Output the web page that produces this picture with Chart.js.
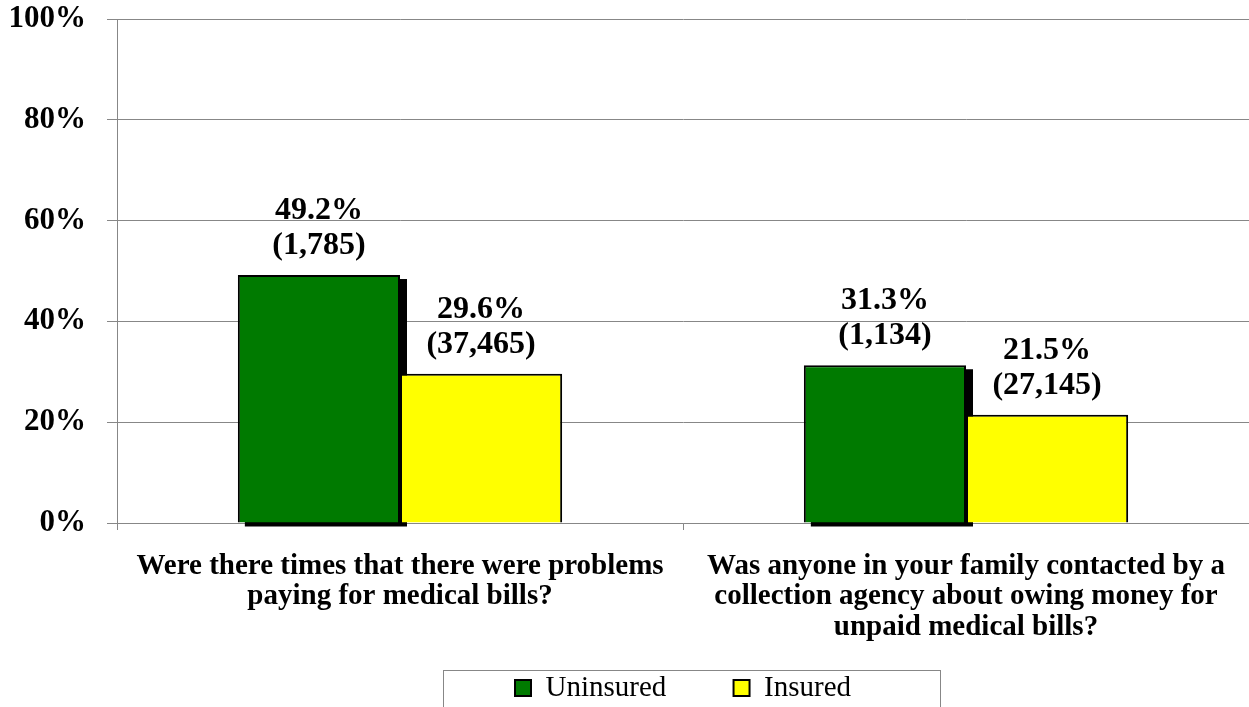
<!DOCTYPE html>
<html>
<head>
<meta charset="utf-8">
<script src="https://cdn.jsdelivr.net/npm/chart.js@4"></script>
<style>
    html, body { margin: 0; padding: 0; background: #ffffff; }
    #wrap { width: 1249px; height: 707px; }
</style>
</head>
<body>
<div id="wrap"><canvas id="chart"></canvas></div>
<script>
// Chart data
const categories = [
    ['Were there times that there were problems', 'paying for medical bills?'],
    ['Was anyone in your family contacted by a', 'collection agency about owing money for', 'unpaid medical bills?']
];
const seriesNames = ['Uninsured', 'Insured'];
const uninsuredPct = [49.2, 31.3];
const insuredPct = [29.6, 21.5];
const uninsuredCount = ['1,785', '1,134'];
const insuredCount = ['37,465', '27,145'];
const yTicks = [0, 20, 40, 60, 80, 100];

const serif = '"Liberation Serif", "Times New Roman", serif';
const gridGray = '#878787';

// Black drop shadow behind the green bars
const shadowPlugin = {
    id: 'barShadow',
    beforeDatasetsDraw(chart) {
        const ctx = chart.ctx;
        const meta = chart.getDatasetMeta(0);
        ctx.save();
        ctx.fillStyle = '#000000';
        meta.data.forEach(bar => {
            const left = bar.x - bar.width / 2;
            ctx.fillRect(left + 7, bar.y + 4, bar.width, bar.base - bar.y);
        });
        ctx.restore();
    }
};

// Two-line value labels above bars
const labelPlugin = {
    id: 'valueLabels',
    afterDatasetsDraw(chart) {
        const ctx = chart.ctx;
        const counts = [uninsuredCount, insuredCount];
        ctx.save();
        ctx.fillStyle = '#000000';
        ctx.font = 'bold 32px ' + serif;
        ctx.textAlign = 'center';
        ctx.textBaseline = 'alphabetic';
        chart.data.datasets.forEach((ds, di) => {
            chart.getDatasetMeta(di).data.forEach((bar, i) => {
                ctx.fillText(ds.data[i].toFixed(1) + '%', bar.x, bar.y - 56);
                ctx.fillText('(' + counts[di][i] + ')', bar.x, bar.y - 21);
            });
        });
        ctx.restore();
    }
};

// Frame around the legend
const legendBoxPlugin = {
    id: 'legendBox',
    afterDraw(chart) {
        const boxes = chart.legend.legendHitBoxes;
        if (!boxes || !boxes.length) return;
        const ctx = chart.ctx;
        const first = boxes[0];
        const last = boxes[boxes.length - 1];
        const left = Math.round(first.left - 72) + 0.5;
        const right = Math.round(last.left + last.width + 89) + 0.5;
        ctx.save();
        ctx.strokeStyle = gridGray;
        ctx.lineWidth = 1;
        ctx.strokeRect(left, 670.5, right - left, 60);
        ctx.restore();
    }
};

const ctx = document.getElementById('chart');
new Chart(ctx, {
    type: 'bar',
    data: {
        labels: categories,
        datasets: [
            {
                label: seriesNames[0],
                data: uninsuredPct,
                backgroundColor: '#007A00',
                borderColor: '#000000',
                borderWidth: 2
            },
            {
                label: seriesNames[1],
                data: insuredPct,
                backgroundColor: '#FFFF00',
                borderColor: '#000000',
                borderWidth: 2
            }
        ]
    },
    options: {
        responsive: true,
        maintainAspectRatio: false,
        animation: false,
        layout: { padding: { top: 0, right: 0, left: 0, bottom: -5.5 } },
        categoryPercentage: 0.573,
        barPercentage: 1.0,
        plugins: {
            tooltip: { enabled: false },
            legend: {
                position: 'bottom',
                fullSize: false,
                labels: {
                    usePointStyle: true,
                    pointStyle: 'rect',
                    boxWidth: 16,
                    boxHeight: 16,
                    padding: 31,
                    color: '#000000',
                    font: { family: serif, size: 29 },
                    generateLabels(chart) {
                        const items = Chart.defaults.plugins.legend.labels.generateLabels(chart);
                        // extra room after the first entry, as in the original legend
                        items[0].text = items[0].text + '\u00A0\u00A0\u00A0\u00A0\u00A0';
                        return items;
                    }
                }
            }
        },
        scales: {
            x: {
                grid: {
                    drawOnChartArea: false,
                    drawTicks: true,
                    tickLength: 7,
                    color: gridGray,
                    offset: true
                },
                border: { color: gridGray, width: 1 },
                ticks: {
                    color: '#000000',
                    font: { family: serif, size: 29, weight: 'bold', lineHeight: 1.05 },
                    maxRotation: 0,
                    padding: 21
                },
                afterFit(scale) { scale.height = 119.5; }
            },
            y: {
                min: 0,
                max: 100,
                afterBuildTicks(scale) {
                    scale.ticks = yTicks.map(v => ({ value: v }));
                },
                grid: {
                    color: gridGray,
                    lineWidth: 1,
                    tickLength: 10
                },
                border: { color: gridGray, width: 1 },
                ticks: {
                    color: '#000000',
                    font: { family: serif, size: 31, weight: 'bold' },
                    padding: 21,
                    callback: v => v + '%'
                },
                afterFit(scale) {
                    scale.width = 117;
                    // top gridline sits 19px below the canvas edge
                    scale.paddingTop = 19;
                    scale.paddingBottom = 0;
                }
            }
        }
    },
    plugins: [shadowPlugin, labelPlugin, legendBoxPlugin]
});
</script>
</body>
</html>
